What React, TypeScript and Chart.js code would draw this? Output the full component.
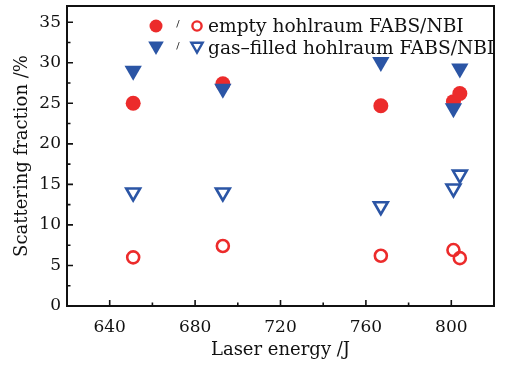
import React, { useEffect, useRef } from "react";
import { Chart, registerables } from "chart.js";

Chart.register(...registerables);

// ---- data ----
const energyEmptyFABS = [651, 693, 767, 801, 804];
const emptyFABS = [25.0, 27.4, 24.7, 25.2, 26.2];
const energyEmptyNBI = [651, 693, 767, 801, 804];
const emptyNBI = [6.0, 7.4, 6.2, 6.9, 5.9];
const energyGasFABS = [651, 693, 767, 804, 801];
const gasFABS = [29.0, 26.8, 30.1, 29.3, 24.4];
const energyGasNBI = [651, 693, 767, 801, 804];
const gasNBI = [14.0, 14.0, 12.3, 14.5, 16.2];

const xTicks = [640, 680, 720, 760, 800];
const xMinorTicks = [660, 700, 740, 780];
const yTicks = [0, 5, 10, 15, 20, 25, 30, 35];
const yMinorTicks = [2.5, 7.5, 12.5, 17.5, 22.5, 27.5, 32.5];
const legendLabels = ["empty hohlraum FABS/NBI", "gas\u2013filled hohlraum FABS/NBI"];
const xTitle = "Laser energy /J";
const yTitle = "Scattering fraction /%";

const RED = "#ec2b2b";
const BLUE = "#2b55a5";
const FONT = "'DejaVu Serif', serif";

const toPoints = (xs: number[], ys: number[]) => xs.map((x, i) => ({ x, y: ys[i] }));

const framePlugin = {
  id: "frame",
  afterDraw(chart: any) {
    const { ctx, chartArea } = chart;
    const { left, right, top, bottom } = chartArea;
    const xs = chart.scales.x;
    const ys = chart.scales.y;
    ctx.save();
    ctx.strokeStyle = "#111";
    ctx.lineWidth = 2;
    ctx.strokeRect(left, top, right - left, bottom - top);
    ctx.lineWidth = 1.6;
    ctx.beginPath();
    xTicks.forEach((v) => {
      const p = xs.getPixelForValue(v);
      ctx.moveTo(p, bottom);
      ctx.lineTo(p, bottom - 6);
    });
    xMinorTicks.forEach((v) => {
      const p = xs.getPixelForValue(v);
      ctx.moveTo(p, bottom);
      ctx.lineTo(p, bottom - 3.5);
    });
    yTicks.forEach((v) => {
      const p = ys.getPixelForValue(v);
      ctx.moveTo(left, p);
      ctx.lineTo(left + 6, p);
    });
    yMinorTicks.forEach((v) => {
      const p = ys.getPixelForValue(v);
      ctx.moveTo(left, p);
      ctx.lineTo(left + 3.5, p);
    });
    ctx.stroke();

    // legend
    const rows = [
      { y: 26, label: legendLabels[0], kind: "circle", color: RED },
      { y: 48, label: legendLabels[1], kind: "tri", color: BLUE },
    ];
    rows.forEach((r) => {
      const x1 = 156;
      const x2 = 197;
      if (r.kind === "circle") {
        ctx.fillStyle = r.color;
        ctx.beginPath();
        ctx.arc(x1, r.y, 6.5, 0, Math.PI * 2);
        ctx.fill();
        ctx.strokeStyle = r.color;
        ctx.lineWidth = 2.4;
        ctx.beginPath();
        ctx.arc(x2, r.y, 4.6, 0, Math.PI * 2);
        ctx.stroke();
      } else {
        const tri = (cx: number, cy: number, rad: number) => {
          ctx.beginPath();
          ctx.moveTo(cx - rad * 0.866, cy - rad * 0.5);
          ctx.lineTo(cx + rad * 0.866, cy - rad * 0.5);
          ctx.lineTo(cx, cy + rad);
          ctx.closePath();
        };
        ctx.fillStyle = r.color;
        tri(x1, r.y - 2, 9);
        ctx.fill();
        ctx.strokeStyle = r.color;
        ctx.lineWidth = 2.4;
        ctx.lineJoin = "miter";
        tri(x2, r.y - 2, 6.5);
        ctx.stroke();
      }
      ctx.fillStyle = "#111";
      ctx.font = `10px ${FONT}`;
      ctx.textAlign = "center";
      ctx.textBaseline = "middle";
      ctx.fillText("/", 178, r.y - 2);
      ctx.font = `18.6px ${FONT}`;
      ctx.textAlign = "left";
      ctx.textBaseline = "alphabetic";
      ctx.fillText(r.label, 208, r.y + 6);
    });
    ctx.restore();
  },
};

export default function App() {
  const canvasRef = useRef<HTMLCanvasElement | null>(null);

  useEffect(() => {
    if (!canvasRef.current) return;
    const chart = new Chart(canvasRef.current, {
      type: "scatter",
      data: {
        datasets: [
          {
            label: "gas-filled FABS",
            data: toPoints(energyGasFABS, gasFABS),
            pointStyle: "triangle",
            rotation: 180,
            pointRadius: 10,
            backgroundColor: BLUE,
            borderColor: BLUE,
            borderWidth: 0,
          },
          {
            label: "empty FABS",
            data: toPoints(energyEmptyFABS, emptyFABS),
            pointStyle: "circle",
            pointRadius: 7.5,
            backgroundColor: RED,
            borderColor: RED,
            borderWidth: 0,
          },
          {
            label: "gas-filled NBI",
            data: toPoints(energyGasNBI, gasNBI),
            pointStyle: "triangle",
            rotation: 180,
            pointRadius: 8,
            backgroundColor: "rgba(255,255,255,0)",
            borderColor: BLUE,
            borderWidth: 2.6,
          },
          {
            label: "empty NBI",
            data: toPoints(energyEmptyNBI, emptyNBI),
            pointStyle: "circle",
            pointRadius: 6,
            backgroundColor: "rgba(255,255,255,0)",
            borderColor: RED,
            borderWidth: 2.6,
          },
        ],
      },
      options: {
        animation: false,
        responsive: true,
        maintainAspectRatio: false,
        layout: { autoPadding: false, padding: { top: 6, right: 15, left: 0, bottom: 0 } },
        plugins: {
          legend: { display: false },
          tooltip: { enabled: false },
        },
        scales: {
          x: {
            type: "linear",
            min: 620,
            max: 820,
            afterBuildTicks: (s: any) => {
              s.ticks = xTicks.map((v) => ({ value: v }));
            },
            afterFit: (s: any) => {
              s.height = 59;
              s.paddingLeft = 0;
              s.paddingRight = 0;
            },
            grid: { display: false, drawTicks: false },
            border: { display: false },
            ticks: {
              color: "#111",
              font: { family: FONT, size: 17 },
              padding: 11,
              maxRotation: 0,
            },
            title: {
              display: true,
              text: xTitle,
              color: "#111",
              font: { family: FONT, size: 18 },
              padding: { top: 0, bottom: 4 },
            },
          },
          y: {
            type: "linear",
            min: 0,
            max: 37,
            afterBuildTicks: (s: any) => {
              s.ticks = yTicks.map((v) => ({ value: v }));
            },
            afterFit: (s: any) => {
              s.width = 67;
              s.paddingTop = 0;
              s.paddingBottom = 0;
            },
            grid: { display: false, drawTicks: false },
            border: { display: false },
            ticks: {
              color: "#111",
              font: { family: FONT, size: 17 },
              padding: 6,
            },
            title: {
              display: true,
              text: yTitle,
              color: "#111",
              font: { family: FONT, size: 18 },
              padding: { top: 12, bottom: 0 },
            },
          },
        },
      },
      plugins: [framePlugin],
    });
    return () => chart.destroy();
  }, []);

  return (
    <div style={{ position: "fixed", left: 0, top: 0, width: 509, height: 365, background: "#fff" }}>
      <canvas ref={canvasRef} />
    </div>
  );
}
